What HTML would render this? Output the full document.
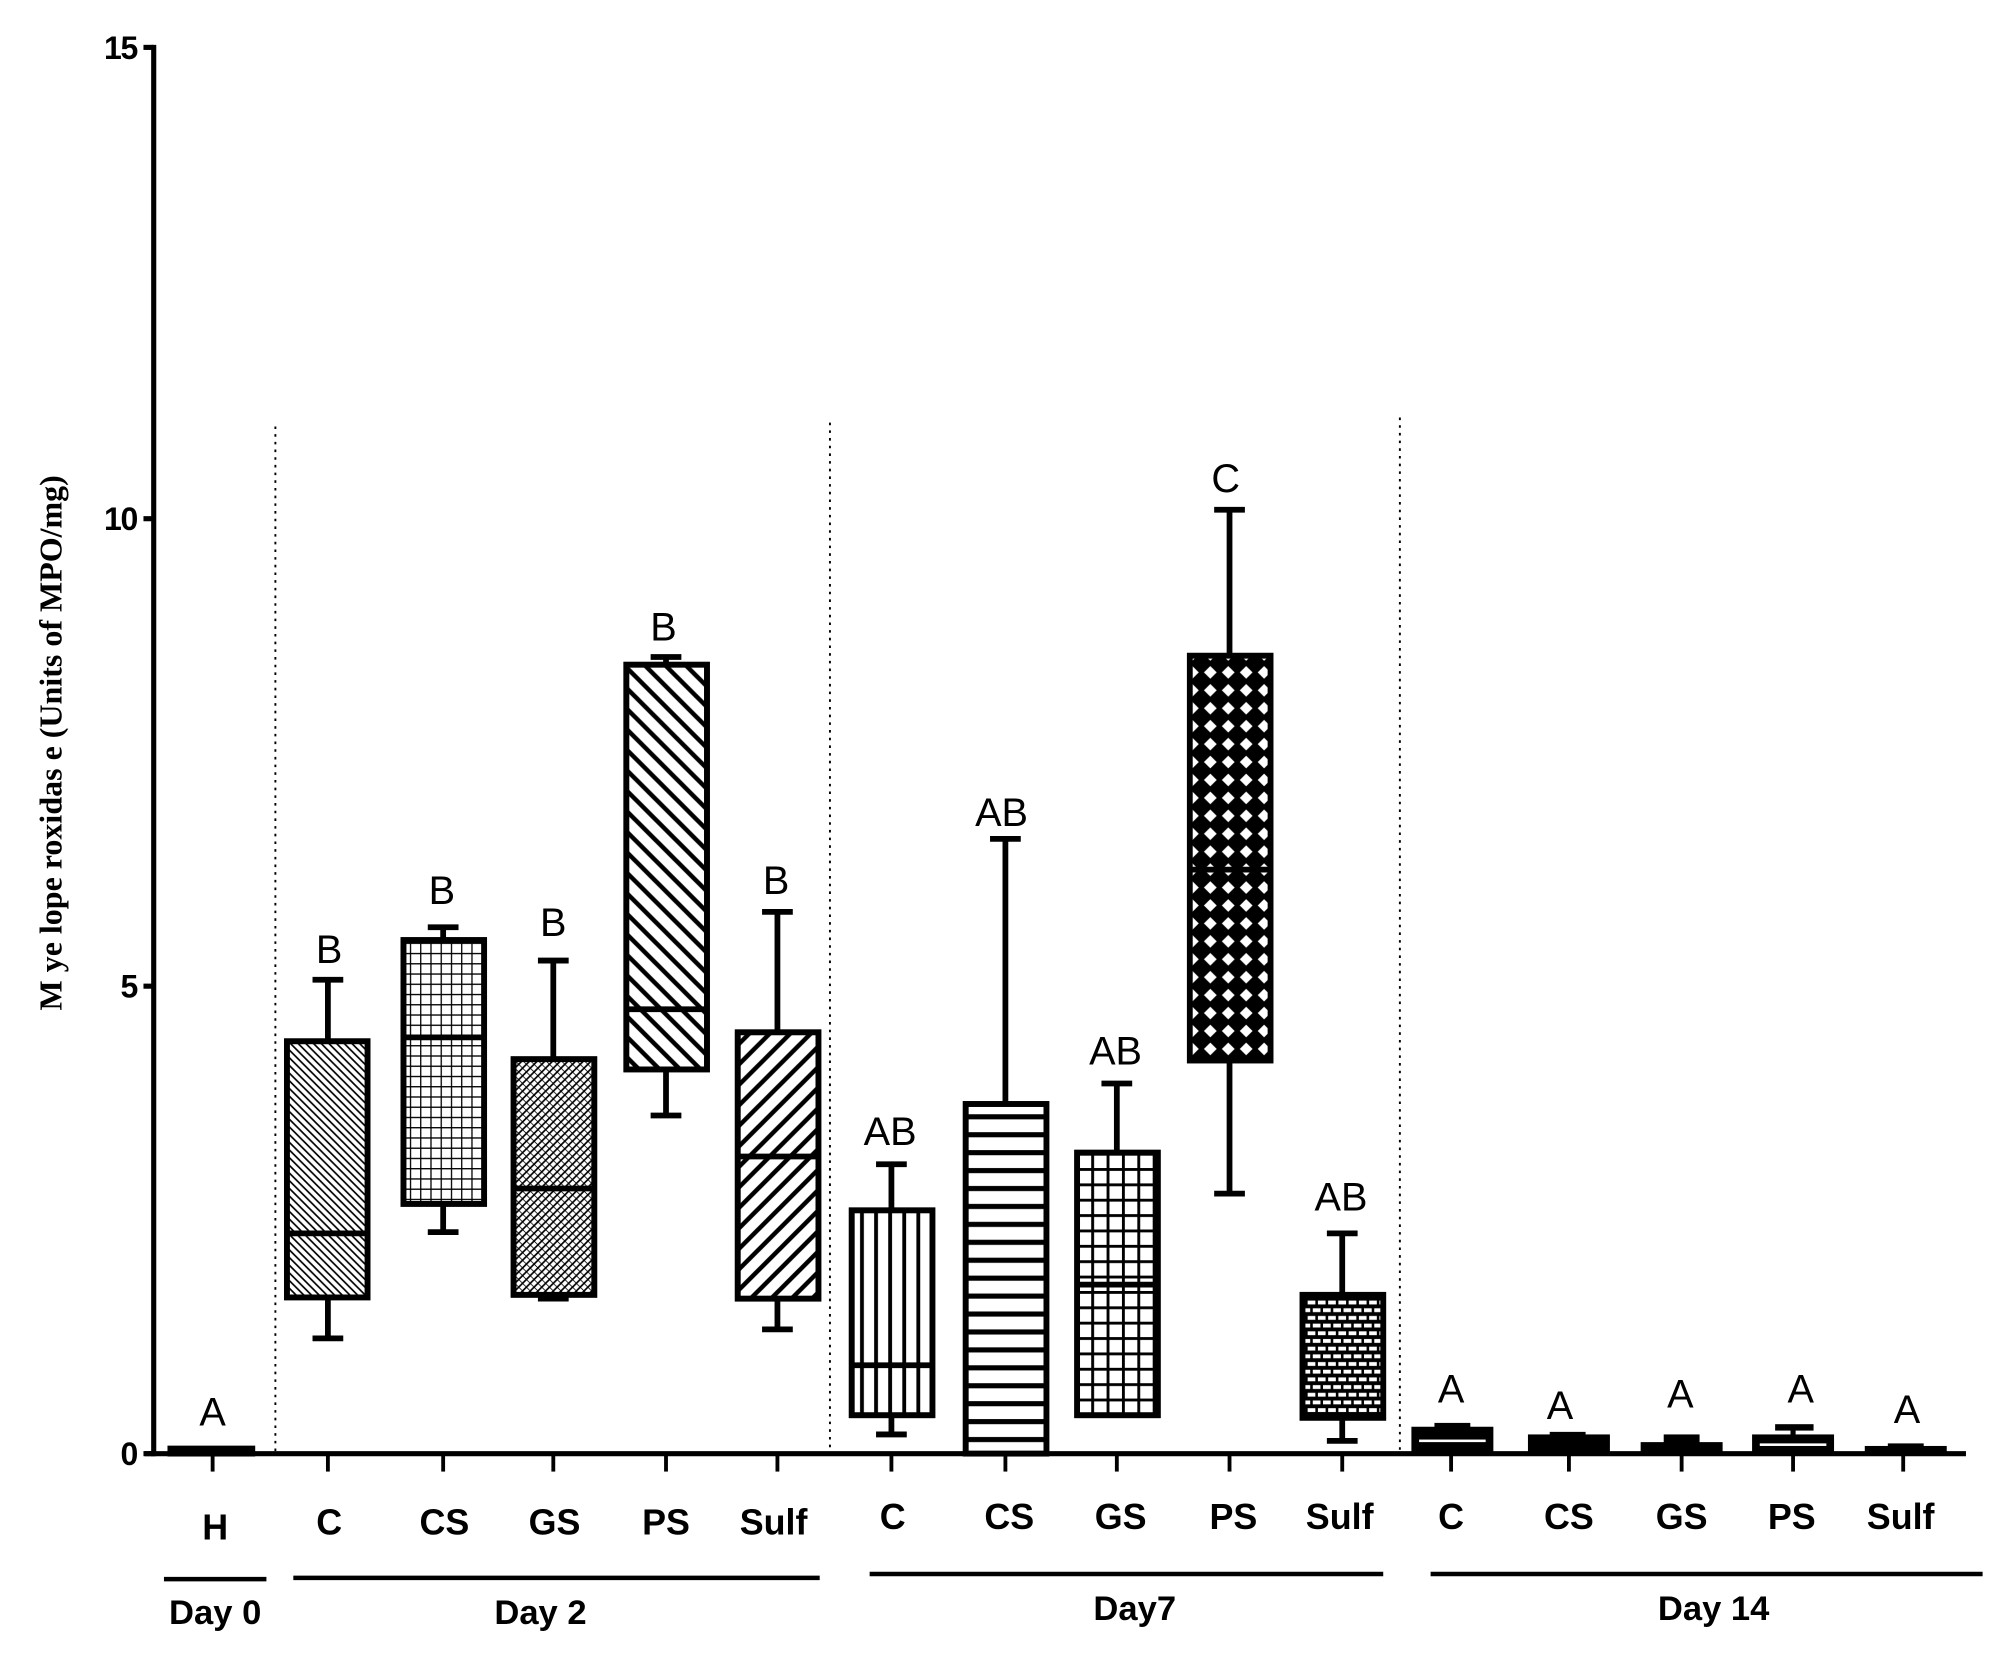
<!DOCTYPE html>
<html><head><meta charset="utf-8"><style>html,body{margin:0;padding:0;background:#fff}svg{display:block}</style></head>
<body>
<svg width="1998" height="1656" viewBox="0 0 1560 1293" xmlns="http://www.w3.org/2000/svg">
<defs>
<pattern id="p1" patternUnits="userSpaceOnUse" width="6" height="6"><path d="M-1,-1 L7,7 M-1,5 L1,7 M5,-1 L7,1" stroke="#000" stroke-width="1.3"/></pattern>
<pattern id="p2" patternUnits="userSpaceOnUse" width="8" height="8"><path d="M0,0 H8 M0,0 V8" stroke="#000" stroke-width="2"/></pattern>
<pattern id="p3" patternUnits="userSpaceOnUse" width="6" height="6"><path d="M-1,7 L7,-1 M-1,1 L1,-1 M5,7 L7,5" stroke="#000" stroke-width="1.3"/><path d="M0,0 L6,6" stroke="#000" stroke-width="0.6"/></pattern>
<pattern id="p4" patternUnits="userSpaceOnUse" width="16" height="16"><path d="M-2,-2 L18,18 M-2,14 L2,18 M14,-2 L18,2" stroke="#000" stroke-width="3.5"/></pattern>
<pattern id="p5" patternUnits="userSpaceOnUse" width="16" height="16"><path d="M-2,18 L18,-2 M-2,2 L2,-2 M14,18 L18,14" stroke="#000" stroke-width="3.5"/></pattern>
<pattern id="p6" patternUnits="userSpaceOnUse" width="11" height="10"><path d="M2,0 V10" stroke="#000" stroke-width="3"/></pattern>
<pattern id="p7" patternUnits="userSpaceOnUse" width="10" height="14"><path d="M0,4 H10" stroke="#000" stroke-width="4"/></pattern>
<pattern id="p8" patternUnits="userSpaceOnUse" width="12" height="12"><path d="M0,1 H12 M1,0 V12" stroke="#000" stroke-width="2.5"/></pattern>
<pattern id="p9" patternUnits="userSpaceOnUse" width="14" height="14"><rect width="14" height="14" fill="#000"/><path d="M7,2 L12,7 L7,12 L2,7 Z" fill="#fff"/></pattern>
<pattern id="p10" patternUnits="userSpaceOnUse" width="16" height="12"><rect width="16" height="12" fill="#000"/><rect x="1" y="1.5" width="6" height="3" fill="#fff"/><rect x="9" y="1.5" width="6" height="3" fill="#fff"/><rect x="5" y="7.5" width="6" height="3" fill="#fff"/><rect x="-3" y="7.5" width="6" height="3" fill="#fff"/><rect x="13" y="7.5" width="6" height="3" fill="#fff"/></pattern>
</defs>

<g stroke="#000" stroke-width="1.5" stroke-dasharray="2,4" fill="none">
<line x1="215" y1="333" x2="215" y2="1135"/>
<line x1="648" y1="330" x2="648" y2="1135"/>
<line x1="1093" y1="326" x2="1093" y2="1135"/>
</g>

<g stroke="#000" stroke-width="4" fill="none">
<line x1="120" y1="35" x2="120" y2="1137"/>
<line x1="113" y1="1135" x2="1535" y2="1135"/>
<line x1="112" y1="37" x2="120" y2="37"/>
<line x1="112" y1="405" x2="120" y2="405"/>
<line x1="112" y1="770" x2="120" y2="770"/>
<line x1="112" y1="1135" x2="120" y2="1135"/>
</g>
<g stroke="#000" stroke-width="3">
<line x1="166" y1="1135" x2="166" y2="1149"/><line x1="256" y1="1135" x2="256" y2="1149"/><line x1="346" y1="1135" x2="346" y2="1149"/><line x1="432" y1="1135" x2="432" y2="1149"/><line x1="520" y1="1135" x2="520" y2="1149"/><line x1="607" y1="1135" x2="607" y2="1149"/><line x1="696" y1="1135" x2="696" y2="1149"/><line x1="785" y1="1135" x2="785" y2="1149"/><line x1="872" y1="1135" x2="872" y2="1149"/><line x1="960" y1="1135" x2="960" y2="1149"/><line x1="1048" y1="1135" x2="1048" y2="1149"/><line x1="1133" y1="1135" x2="1133" y2="1149"/><line x1="1225" y1="1135" x2="1225" y2="1149"/><line x1="1313" y1="1135" x2="1313" y2="1149"/><line x1="1400" y1="1135" x2="1400" y2="1149"/><line x1="1486" y1="1135" x2="1486" y2="1149"/>
</g>

<g font-family="Liberation Sans, Arial, sans-serif" font-weight="bold" font-size="25" text-anchor="end" letter-spacing="-1">
<text x="107" y="46">15</text><text x="107" y="414">10</text><text x="107" y="779">5</text><text x="107" y="1144">0</text>
</g>

<text transform="translate(48,580) rotate(-90)" text-anchor="middle" font-family="Liberation Serif, serif" font-weight="bold" font-size="25">M ye lope roxidas e  (Units of MPO/mg)</text>

<g stroke="#000" stroke-width="4.5">
<rect x="133" y="1131" width="64" height="4" fill="#000"/>
<line x1="256" y1="765" x2="256" y2="1045"/><line x1="244" y1="765" x2="268" y2="765"/><line x1="244" y1="1045" x2="268" y2="1045"/>
<rect x="224" y="813" width="63" height="200" fill="#fff"/><rect x="224" y="813" width="63" height="200" fill="url(#p1)"/><line x1="224" y1="963" x2="287" y2="963"/>
<line x1="346" y1="724" x2="346" y2="962"/><line x1="334" y1="724" x2="358" y2="724"/><line x1="334" y1="962" x2="358" y2="962"/>
<rect x="315" y="734" width="63" height="206" fill="#fff"/><rect x="315" y="734" width="63" height="206" fill="url(#p2)"/><line x1="315" y1="810" x2="378" y2="810"/>
<line x1="432" y1="750" x2="432" y2="1014"/><line x1="420" y1="750" x2="444" y2="750"/><line x1="420" y1="1014" x2="444" y2="1014"/>
<rect x="401" y="827" width="63" height="184" fill="#fff"/><rect x="401" y="827" width="63" height="184" fill="url(#p3)"/><line x1="401" y1="928" x2="464" y2="928"/>
<line x1="520" y1="513" x2="520" y2="871"/><line x1="508" y1="513" x2="532" y2="513"/><line x1="508" y1="871" x2="532" y2="871"/>
<rect x="489" y="519" width="63" height="316" fill="#fff"/><rect x="489" y="519" width="63" height="316" fill="url(#p4)"/><line x1="489" y1="788" x2="552" y2="788"/>
<line x1="607" y1="712" x2="607" y2="1038"/><line x1="595" y1="712" x2="619" y2="712"/><line x1="595" y1="1038" x2="619" y2="1038"/>
<rect x="576" y="806" width="63" height="208" fill="#fff"/><rect x="576" y="806" width="63" height="208" fill="url(#p5)"/><line x1="576" y1="903" x2="639" y2="903"/>
<line x1="696" y1="909" x2="696" y2="1120"/><line x1="684" y1="909" x2="708" y2="909"/><line x1="684" y1="1120" x2="708" y2="1120"/>
<rect x="665" y="945" width="63" height="160" fill="#fff"/><rect x="665" y="945" width="63" height="160" fill="url(#p6)"/><line x1="665" y1="1066" x2="728" y2="1066"/>
<line x1="785" y1="655" x2="785" y2="862"/><line x1="773" y1="655" x2="797" y2="655"/>
<rect x="754" y="862" width="63" height="273" fill="#fff"/><rect x="754" y="862" width="63" height="273" fill="url(#p7)"/>
<line x1="872" y1="846" x2="872" y2="900"/><line x1="860" y1="846" x2="884" y2="846"/>
<rect x="841" y="900" width="63" height="205" fill="#fff"/><rect x="841" y="900" width="63" height="205" fill="url(#p8)"/><line x1="841" y1="1003" x2="904" y2="1003"/>
<line x1="960" y1="398" x2="960" y2="932"/><line x1="948" y1="398" x2="972" y2="398"/><line x1="948" y1="932" x2="972" y2="932"/>
<rect x="929" y="512" width="63" height="316" fill="#fff"/><rect x="929" y="512" width="63" height="316" fill="url(#p9)"/><line x1="929" y1="679" x2="992" y2="679"/>
<line x1="1048" y1="963" x2="1048" y2="1125"/><line x1="1036" y1="963" x2="1060" y2="963"/><line x1="1036" y1="1125" x2="1060" y2="1125"/>
<rect x="1017" y="1011" width="63" height="96" fill="#fff"/><rect x="1017" y="1011" width="63" height="96" fill="url(#p10)"/>
</g>
<g fill="#000">
<rect x="1102" y="1114" width="64" height="21"/><rect x="1120" y="1111" width="28" height="4"/><rect x="1108" y="1124" width="52" height="2" fill="#fff"/>
<rect x="1193" y="1120" width="64" height="15"/><rect x="1210" y="1118" width="28" height="3"/>
<rect x="1281" y="1126" width="64" height="9"/><rect x="1299" y="1120" width="28" height="7"/>
<rect x="1368" y="1120" width="64" height="15"/><rect x="1386" y="1112" width="30" height="5"/><rect x="1398" y="1115" width="4" height="6"/><rect x="1374" y="1127" width="52" height="2" fill="#fff"/>
<rect x="1456" y="1129" width="64" height="6"/><rect x="1474" y="1127" width="28" height="3"/>
</g>

<g font-family="Liberation Sans, Arial, sans-serif" font-size="31" text-anchor="middle">
<text x="166" y="1113">A</text>
<text x="257" y="752">B</text><text x="345" y="706">B</text><text x="432" y="731">B</text><text x="518" y="500">B</text><text x="606" y="698">B</text>
<text x="695" y="894">AB</text><text x="782" y="645">AB</text><text x="871" y="831">AB</text><text x="957" y="384">C</text><text x="1047" y="945">AB</text>
<text x="1133" y="1095">A</text><text x="1218" y="1108">A</text><text x="1312" y="1099">A</text><text x="1406" y="1095">A</text><text x="1489" y="1111">A</text>
</g>

<g font-family="Liberation Sans, Arial, sans-serif" font-weight="bold" font-size="28" text-anchor="middle">
<text x="168" y="1202">H</text><text x="257" y="1198">C</text><text x="347" y="1198">CS</text><text x="433" y="1198">GS</text><text x="520" y="1198">PS</text><text x="604" y="1198">Sulf</text>
<text x="697" y="1194">C</text><text x="788" y="1194">CS</text><text x="875" y="1194">GS</text><text x="963" y="1194">PS</text><text x="1046" y="1194">Sulf</text>
<text x="1133" y="1194">C</text><text x="1225" y="1194">CS</text><text x="1313" y="1194">GS</text><text x="1399" y="1194">PS</text><text x="1484" y="1194">Sulf</text>
</g>
<g stroke="#000" stroke-width="3.5">
<line x1="128" y1="1233" x2="208" y2="1233"/>
<line x1="229" y1="1232" x2="640" y2="1232"/>
<line x1="679" y1="1229" x2="1080" y2="1229"/>
<line x1="1117" y1="1229" x2="1548" y2="1229"/>
</g>
<g font-family="Liberation Sans, Arial, sans-serif" font-weight="bold" font-size="27" text-anchor="middle">
<text x="168" y="1268">Day 0</text><text x="422" y="1268">Day 2</text><text x="886" y="1265">Day7</text><text x="1338" y="1265">Day 14</text>
</g>
</svg>
</body></html>
